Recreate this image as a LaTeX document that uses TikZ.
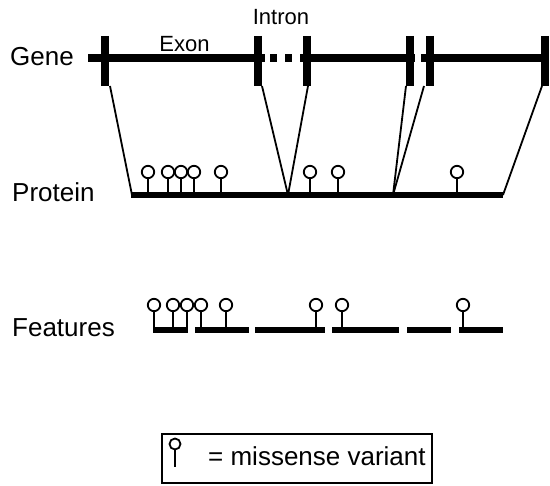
\documentclass[tikz,border=0pt]{standalone}
\usepackage{fontspec}
\setmainfont{Liberation Sans}
\begin{document}
\begin{tikzpicture}[x=1pt,y=-1pt,
  genebar/.style={line width=8pt},
  genetick/.style={line width=8pt},
  protbar/.style={line width=6.5pt},
  featbar/.style={line width=6.5pt},
  thinline/.style={line width=1.8pt},
  biglabel/.style={font=\fontsize{26}{30}\selectfont, inner sep=0pt},
  smalllabel/.style={font=\fontsize{22}{26}\selectfont, inner sep=0pt},
  plolli/.pic={\draw[thinline] (0,-3) -- (0,-17); \draw[thinline,fill=white] (0,-23) circle (6.2);},
  flolli/.pic={\draw[thinline] (0,-3) -- (0,-19); \draw[thinline,fill=white] (0,-25) circle (6.2);}
]
\useasboundingbox (0,0) rectangle (550,486);

% labels
\node[biglabel, anchor=base west] (lgene) at (10,66) {Gene};
\node[biglabel, anchor=base west] (lprot) at (12,202) {Protein};
\node[biglabel, anchor=base west] (lfeat) at (12,337) {Features};
\node[smalllabel, anchor=base] (lexon) at (184.5,52) {Exon};
\node[smalllabel, anchor=base] (lintron) at (281,25) {Intron};

% gene
\draw[genebar] (88,58) -- (265,58);
\draw[genebar] (300,58) -- (415,58);
\draw[genebar] (421,58) -- (549,58);
\fill (270,54) rectangle (277,62);
\fill (285,54) rectangle (292,62);

% connector ends
\coordinate (t1) at (110,86);
\coordinate (t2) at (262,86);
\coordinate (t3) at (308,86);
\coordinate (t4) at (406,86);
\coordinate (t5) at (424,86);
\coordinate (t6) at (542,86);
\coordinate (p0) at (132,195);
\coordinate (v1) at (288,195);
\coordinate (v2) at (393,195);
\coordinate (p1) at (503,195);

\draw[thinline] (t1) -- (p0);
\draw[thinline] (t2) -- (v1);
\draw[thinline] (t3) -- (v1);
\draw[thinline] (t4) -- (v2);
\draw[thinline] (t5) -- (v2);
\draw[thinline] (t6) -- (p1);

% ticks
\foreach \x in {105,257.5,306.5,409.5,429.5,545}
  \draw[genetick] (\x,36) -- (\x,86);

% protein
\draw[protbar] (131,195) -- (503,195);
\foreach \x in {148,168,181,194,221,310,338,457}
  \pic at (\x,195) {plolli};

% features
\foreach \a/\b in {153/188,195/249,255/325,332/399,407/451,459/503}
  \draw[featbar] (\a,330) -- (\b,330);
\foreach \x in {154,173,187,201,226,316,342,463}
  \pic at (\x,330) {flolli};

% legend
\draw[line width=1.8pt] (162,434) rectangle (432,483);
\draw[thinline] (175,449.5) -- (175,467);
\draw[thinline] (175,444) circle (5.5);
\node[biglabel, anchor=base west] (llegend) at (208,466) {= missense variant};
\end{tikzpicture}
\end{document}
